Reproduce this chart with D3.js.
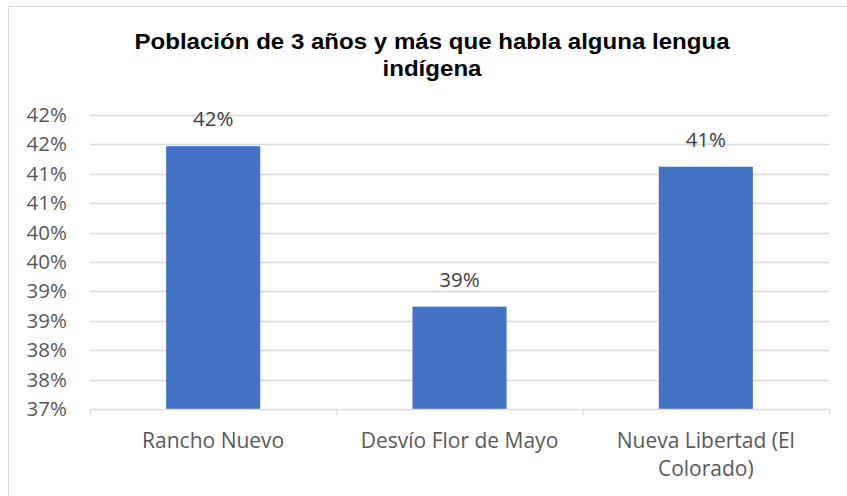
<!DOCTYPE html>
<html>
<head>
<meta charset="utf-8">
<script src="https://cdn.jsdelivr.net/npm/d3@7"></script>
<style>
  body { margin: 0; background: #fff; }
  .axis text { font-family: "Open Sans", "Noto Sans", sans-serif; font-size: 20.5px; fill: #595959; }
  .axis--x text { font-size: 21px; }
  .label { font-family: "Open Sans", "Noto Sans", sans-serif; font-size: 20.5px; fill: #404040; }
  .title { font-family: "Liberation Sans", Arial, sans-serif; font-size: 21.5px; font-weight: bold; fill: #000; }
</style>
</head>
<body>
<svg width="847" height="496"></svg>
<script>
var categories = ["Rancho Nuevo", "Desvío Flor de Mayo", "Nueva Libertad (El Colorado)"];
var values = [41.47, 38.74, 41.12];
var valueLabels = ["42%", "39%", "41%"];
var yTicks = [37, 37.5, 38, 38.5, 39, 39.5, 40, 40.5, 41, 41.5, 42];
var titleLines = ["Población de 3 años y más que habla alguna lengua", "indígena"];

var svg = d3.select("svg"),
    margin = {top: 115, right: 18, bottom: 87, left: 90},
    width = +svg.attr("width") - margin.left - margin.right,
    height = +svg.attr("height") - margin.top - margin.bottom;

// chart border (runs off the right and bottom edge)
svg.append("rect")
    .attr("x", 8.5).attr("y", 6.5)
    .attr("width", 860).attr("height", 520)
    .attr("fill", "#fff")
    .attr("stroke", "#d9d9d9");

// title, a bit wider than the font gives
var titleG = svg.append("g")
    .attr("transform", "translate(432,0) scale(1.12,1)");
titleG.selectAll(".title")
  .data(titleLines)
  .enter().append("text")
    .attr("class", "title")
    .attr("x", 0)
    .attr("y", function(d, i) { return 49 + i * 27; })
    .attr("text-anchor", "middle")
    .text(function(d) { return d; });

var x = d3.scaleBand().domain(categories).range([0, width]).paddingInner(0.618).paddingOuter(0.309),
    y = d3.scaleLinear().domain([37, 42]).range([height, 0]);

var g = svg.append("g")
    .attr("transform", "translate(" + margin.left + "," + margin.top + ")");

// gridlines
g.selectAll(".grid")
  .data(yTicks.slice(1))
  .enter().append("line")
    .attr("x1", 0).attr("x2", width)
    .attr("y1", function(d) { return Math.round(y(d)) + 0.5; })
    .attr("y2", function(d) { return Math.round(y(d)) + 0.5; })
    .attr("stroke", "#d9d9d9")
    .attr("stroke-width", 1.3);

var yAxis = g.append("g")
    .attr("class", "axis axis--y")
    .call(d3.axisLeft(y).tickValues(yTicks).tickSize(0).tickPadding(23)
      .tickFormat(function(d) { return Math.round(d) + "%"; }));
yAxis.select(".domain").remove();

g.selectAll(".bar")
  .data(values)
  .enter().append("rect")
    .attr("class", "bar")
    .attr("x", function(d, i) { return x(categories[i]); })
    .attr("y", function(d) { return y(d); })
    .attr("width", x.bandwidth())
    .attr("height", function(d) { return height - y(d); })
    .attr("fill", "#4472c4");

g.selectAll(".label")
  .data(values)
  .enter().append("text")
    .attr("class", "label")
    .attr("x", function(d, i) { return x(categories[i]) + x.bandwidth() / 2; })
    .attr("y", function(d) { return y(d) - 20; })
    .attr("text-anchor", "middle")
    .text(function(d, i) { return valueLabels[i]; });

// x axis: baseline with tick marks at category boundaries
var step = x.step();
var xAxis = g.append("g")
    .attr("class", "axis axis--x")
    .attr("transform", "translate(0," + height + ")");
xAxis.append("line")
    .attr("x1", 0).attr("x2", width)
    .attr("y1", 0.5).attr("y2", 0.5)
    .attr("stroke", "#d9d9d9").attr("stroke-width", 1.3);
xAxis.selectAll(".tickmark")
  .data(d3.range(categories.length + 1))
  .enter().append("line")
    .attr("x1", function(d) { return d * step + 0.5; })
    .attr("x2", function(d) { return d * step + 0.5; })
    .attr("y1", 0).attr("y2", 6)
    .attr("stroke", "#d9d9d9").attr("stroke-width", 1.3);

var catLines = [["Rancho Nuevo"], ["Desvío Flor de Mayo"], ["Nueva Libertad (El", "Colorado)"]];
xAxis.selectAll(".cat")
  .data(categories)
  .enter().append("text")
    .attr("x", function(d) { return x(d) + x.bandwidth() / 2; })
    .attr("y", 39)
    .attr("text-anchor", "middle")
    .each(function(d, i) {
      var t = d3.select(this);
      catLines[i].forEach(function(line, j) {
        t.append("tspan")
          .attr("x", x(d) + x.bandwidth() / 2)
          .attr("dy", j === 0 ? 0 : 28)
          .text(line);
      });
    });
</script>
</body>
</html>
